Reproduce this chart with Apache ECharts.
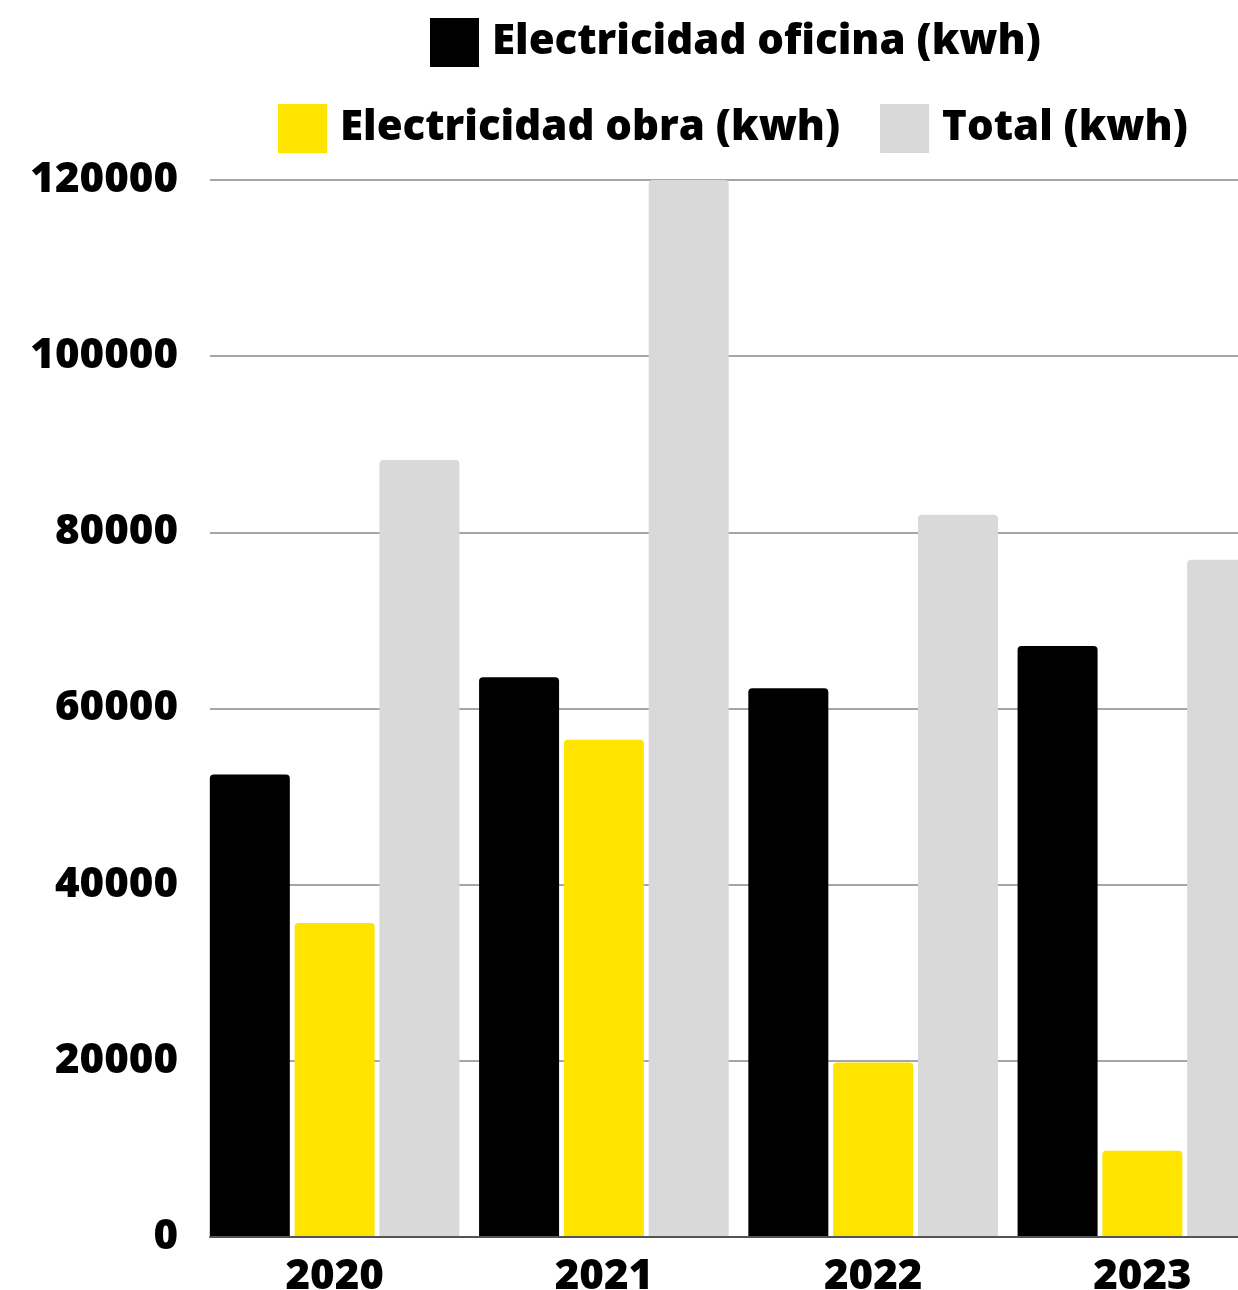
<!DOCTYPE html>
<html>
<head>
<meta charset="utf-8">
<script src="https://cdn.jsdelivr.net/npm/echarts@6/dist/echarts.min.js"></script>
<style>
html,body{margin:0;padding:0;background:#fff;overflow:hidden;}
#chart{width:1277px;height:1290px;}
</style>
</head>
<body>
<div id="chart"></div>
<script>
const categories = ['2020', '2021', '2022', '2023'];
const oficina = [52500, 63550, 62300, 67100];
const obra = [35650, 56450, 19800, 9800];
const total = [88200, 120000, 82000, 76900];
const yTicks = [0, 20000, 40000, 60000, 80000, 100000, 120000];
const seriesNames = ['Electricidad oficina (kwh)', 'Electricidad obra (kwh)', 'Total (kwh)'];

const FONT = '"Open Sans", "Noto Sans", sans-serif';
const WEIGHT = 800;
const chart = echarts.init(document.getElementById('chart'));
const radius = [4, 4, 0, 0];

chart.setOption({
  backgroundColor: '#ffffff',
  animation: false,
  color: ['#000000', '#FFE400', '#D9D9D9'],
  legend: [
    {
      data: [seriesNames[0]],
      left: 430, top: 18,
      itemWidth: 49, itemHeight: 49, padding: 0,
      icon: 'rect',
      textStyle: { fontFamily: FONT, fontWeight: WEIGHT, fontSize: 42, color: '#000', padding: [4, 0, 0, 8] }
    },
    {
      data: [seriesNames[1], seriesNames[2]],
      left: 278, top: 104,
      itemWidth: 49, itemHeight: 49, padding: 0, itemGap: 40,
      icon: 'rect',
      textStyle: { fontFamily: FONT, fontWeight: WEIGHT, fontSize: 42, color: '#000', padding: [4, 0, 0, 8] }
    }
  ],
  grid: [
    { left: 200, right: 0, top: 180, bottom: 53, containLabel: false, outerBoundsMode: 'none' },
    { left: 210, right: 0, top: 180, bottom: 53, containLabel: false, outerBoundsMode: 'none' }
  ],
  xAxis: [
    {
      gridIndex: 0, type: 'category', data: categories,
      axisLine: { show: false }, axisTick: { show: false },
      axisLabel: { fontFamily: FONT, fontWeight: WEIGHT, fontSize: 42, color: '#000', margin: 19 }
    },
    {
      gridIndex: 1, type: 'category', data: categories, z: 5,
      axisLine: { show: true, lineStyle: { color: '#555555', width: 2 } },
      axisTick: { show: false }, axisLabel: { show: false }
    }
  ],
  yAxis: [
    { gridIndex: 0, type: 'value', min: 0, max: 120000, interval: 20000, show: false, splitLine: { show: false } },
    {
      gridIndex: 1, type: 'value', min: yTicks[0], max: yTicks[yTicks.length - 1], interval: 20000,
      axisLine: { show: false }, axisTick: { show: false },
      splitLine: { lineStyle: { color: '#A6A6A6', width: 2 } },
      axisLabel: { fontFamily: FONT, fontWeight: WEIGHT, fontSize: 42, color: '#000', margin: 32,
        padding: [4, 0, 0, 0],
        formatter: function (v) { return String(v); } }
    }
  ],
  series: [
    { name: seriesNames[0], type: 'bar', xAxisIndex: 0, yAxisIndex: 0, data: oficina, barWidth: 80, barGap: '6%', itemStyle: { borderRadius: radius } },
    { name: seriesNames[1], type: 'bar', xAxisIndex: 0, yAxisIndex: 0, data: obra, barWidth: 80, barGap: '6%', itemStyle: { borderRadius: radius } },
    { name: seriesNames[2], type: 'bar', xAxisIndex: 0, yAxisIndex: 0, data: total, barWidth: 80, barGap: '6%', itemStyle: { borderRadius: radius } }
  ]
});
</script>
</body>
</html>
